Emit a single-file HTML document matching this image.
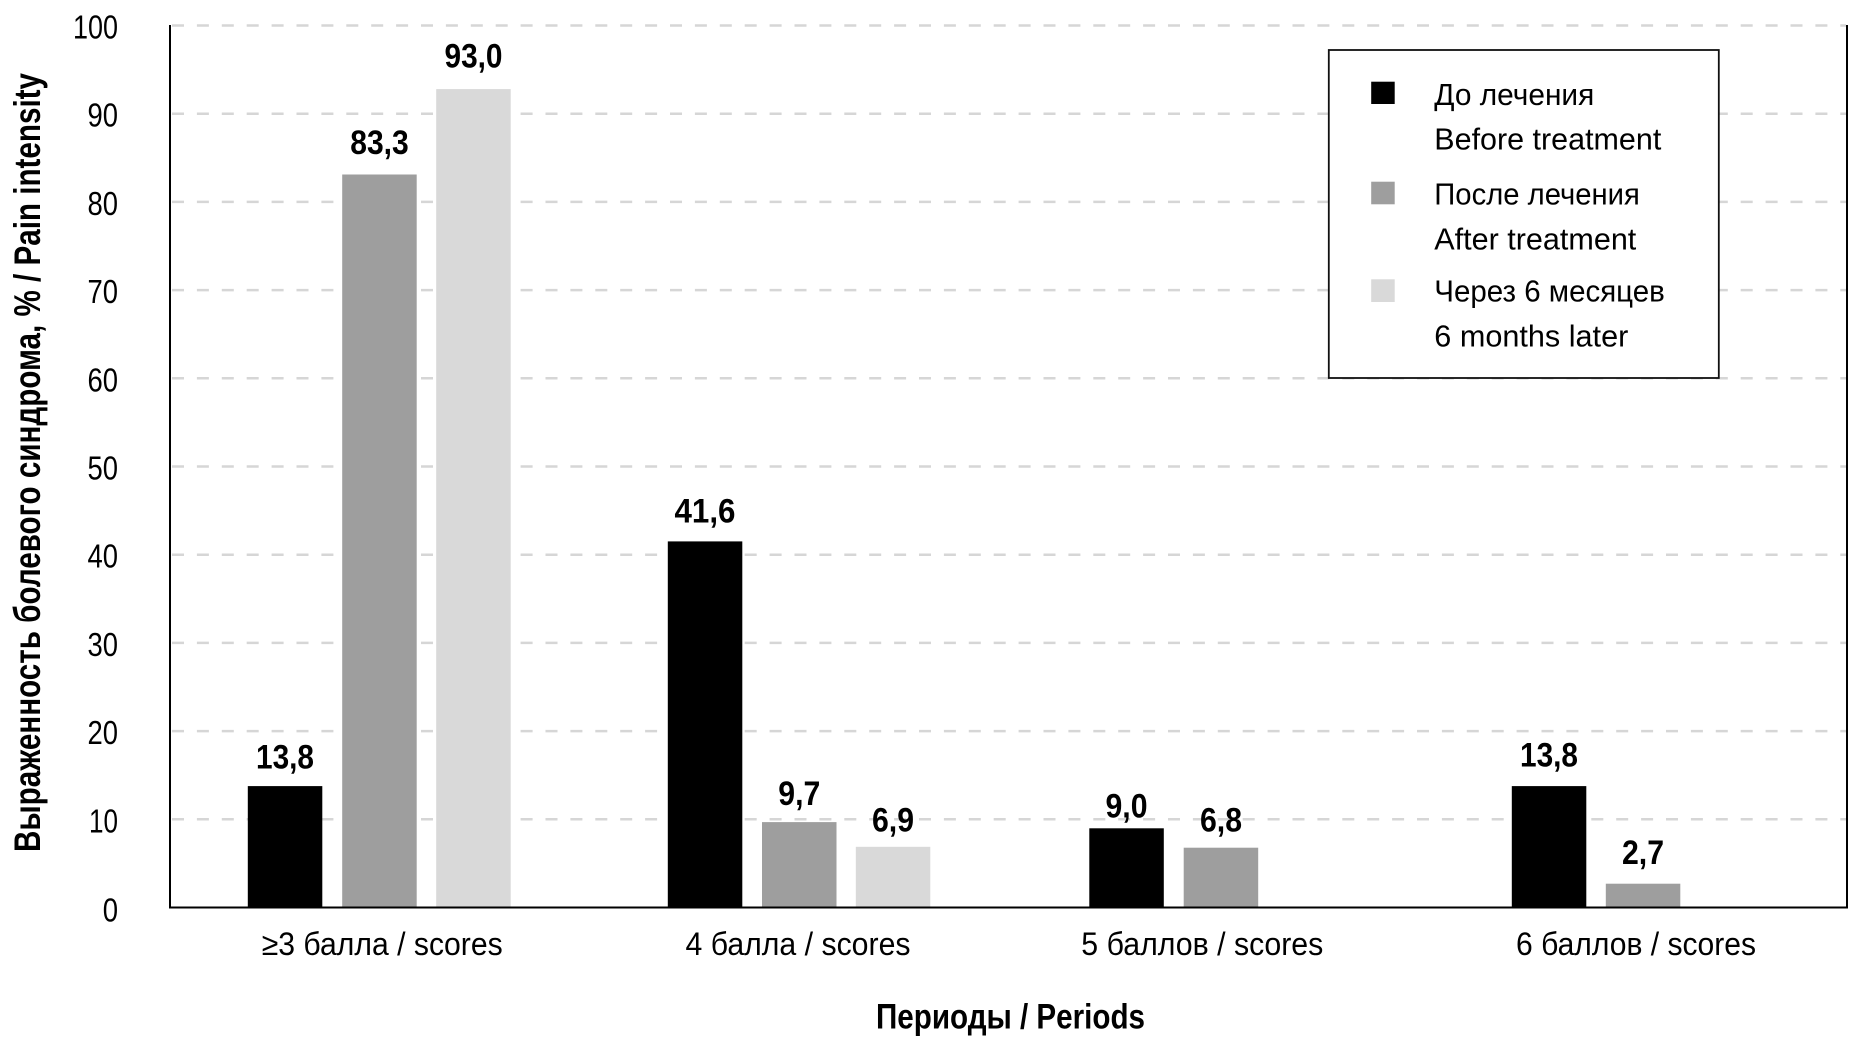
<!DOCTYPE html>
<html>
<head>
<meta charset="utf-8">
<style>
  html,body{margin:0;padding:0;background:#fff;}
  svg{display:block;}
  text{font-family:"Liberation Sans","DejaVu Sans",sans-serif;fill:#000;}
  .tick{font-size:33px;}
  .cat{font-size:32px;}
  .leg{font-size:31px;}
  .val{font-size:34px;font-weight:bold;}
  .ttl{font-size:35px;font-weight:bold;}
</style>
</head>
<body>
<svg width="1850" height="1046" viewBox="0 0 1850 1046" xmlns="http://www.w3.org/2000/svg">
  <rect x="0" y="0" width="1850" height="1046" fill="#fff"/>

  <!-- gridlines -->
  <g stroke="#d6d6d6" stroke-width="2.5" stroke-dasharray="12 12.9" fill="none">
    <line x1="172" y1="25.5" x2="1846" y2="25.5"/>
    <line x1="172" y1="113.7" x2="1846" y2="113.7"/>
    <line x1="172" y1="201.9" x2="1846" y2="201.9"/>
    <line x1="172" y1="290.1" x2="1846" y2="290.1"/>
    <line x1="172" y1="378.3" x2="1846" y2="378.3"/>
    <line x1="172" y1="466.5" x2="1846" y2="466.5"/>
    <line x1="172" y1="554.7" x2="1846" y2="554.7"/>
    <line x1="172" y1="642.9" x2="1846" y2="642.9"/>
    <line x1="172" y1="731.1" x2="1846" y2="731.1"/>
    <line x1="172" y1="819.3" x2="1846" y2="819.3"/>
  </g>

  <!-- bars: y = 907.5 - 8.8*v -->
  <!-- group 1 -->
  <rect x="247.8" y="786.1" width="74.5" height="121.4" fill="#000"/>
  <rect x="342.2" y="174.5" width="74.5" height="733" fill="#9e9e9e"/>
  <rect x="436.2" y="89.1" width="74.5" height="818.4" fill="#d9d9d9"/>
  <!-- group 2 -->
  <rect x="667.8" y="541.4" width="74.5" height="366.1" fill="#000"/>
  <rect x="762.0" y="822.1" width="74.5" height="85.4" fill="#9e9e9e"/>
  <rect x="855.8" y="846.8" width="74.5" height="60.7" fill="#d9d9d9"/>
  <!-- group 3 -->
  <rect x="1089.3" y="828.3" width="74.5" height="79.2" fill="#000"/>
  <rect x="1183.7" y="847.7" width="74.5" height="59.8" fill="#9e9e9e"/>
  <!-- group 4 -->
  <rect x="1511.8" y="786.1" width="74.5" height="121.4" fill="#000"/>
  <rect x="1605.8" y="883.7" width="74.5" height="23.8" fill="#9e9e9e"/>

  <!-- axes -->
  <line x1="170" y1="25" x2="170" y2="908.5" stroke="#000" stroke-width="2"/>
  <line x1="1847" y1="25" x2="1847" y2="908.5" stroke="#000" stroke-width="2"/>
  <line x1="169" y1="907.5" x2="1848" y2="907.5" stroke="#000" stroke-width="2"/>

  <!-- y tick labels -->
  <g class="tick" text-anchor="end">
    <text x="118" y="38.5" textLength="45" lengthAdjust="spacingAndGlyphs">100</text>
    <text x="118" y="126.7" textLength="30.5" lengthAdjust="spacingAndGlyphs">90</text>
    <text x="118" y="214.9" textLength="30.5" lengthAdjust="spacingAndGlyphs">80</text>
    <text x="118" y="303.1" textLength="30.5" lengthAdjust="spacingAndGlyphs">70</text>
    <text x="118" y="391.3" textLength="30.5" lengthAdjust="spacingAndGlyphs">60</text>
    <text x="118" y="479.5" textLength="30.5" lengthAdjust="spacingAndGlyphs">50</text>
    <text x="118" y="567.7" textLength="30.5" lengthAdjust="spacingAndGlyphs">40</text>
    <text x="118" y="655.9" textLength="30.5" lengthAdjust="spacingAndGlyphs">30</text>
    <text x="118" y="744.1" textLength="30.5" lengthAdjust="spacingAndGlyphs">20</text>
    <text x="118" y="832.3" textLength="29" lengthAdjust="spacingAndGlyphs">10</text>
    <text x="118" y="921.5" textLength="15.3" lengthAdjust="spacingAndGlyphs">0</text>
  </g>

  <!-- value labels -->
  <g class="val" text-anchor="middle">
    <text x="285" y="768.3" textLength="58" lengthAdjust="spacingAndGlyphs">13,8</text>
    <text x="379.5" y="154" textLength="58.5" lengthAdjust="spacingAndGlyphs">83,3</text>
    <text x="473.5" y="67.5" textLength="58" lengthAdjust="spacingAndGlyphs">93,0</text>
    <text x="705" y="522.7" textLength="61" lengthAdjust="spacingAndGlyphs">41,6</text>
    <text x="799.3" y="805" textLength="42" lengthAdjust="spacingAndGlyphs">9,7</text>
    <text x="893" y="831.7" textLength="42" lengthAdjust="spacingAndGlyphs">6,9</text>
    <text x="1126.5" y="817.3" textLength="42" lengthAdjust="spacingAndGlyphs">9,0</text>
    <text x="1221" y="831.7" textLength="42" lengthAdjust="spacingAndGlyphs">6,8</text>
    <text x="1549" y="766.7" textLength="58" lengthAdjust="spacingAndGlyphs">13,8</text>
    <text x="1643" y="864" textLength="42" lengthAdjust="spacingAndGlyphs">2,7</text>
  </g>

  <!-- category labels -->
  <g class="cat">
    <text x="261.7" y="955" textLength="241" lengthAdjust="spacingAndGlyphs">≥3 балла / scores</text>
    <text x="685.5" y="955" textLength="225" lengthAdjust="spacingAndGlyphs">4 балла / scores</text>
    <text x="1081.3" y="955" textLength="242" lengthAdjust="spacingAndGlyphs">5 баллов / scores</text>
    <text x="1516" y="955" textLength="240" lengthAdjust="spacingAndGlyphs">6 баллов / scores</text>
  </g>

  <!-- x title -->
  <text class="ttl" x="876" y="1028.3" textLength="269" lengthAdjust="spacingAndGlyphs">Периоды / Periods</text>

  <!-- y title -->
  <text class="ttl" transform="translate(40,462.5) rotate(-90)" x="0" y="0" text-anchor="middle" style="font-size:37px" textLength="779" lengthAdjust="spacingAndGlyphs">Выраженность болевого синдрома, % / Pain intensity</text>

  <!-- legend -->
  <rect x="1328.8" y="50" width="390" height="328" fill="#fff" stroke="#111" stroke-width="1.8"/>
  <rect x="1371.2" y="81.7" width="23.5" height="22.3" fill="#000"/>
  <rect x="1371.2" y="181.7" width="23.5" height="22.6" fill="#9e9e9e"/>
  <rect x="1371.2" y="279.3" width="23.5" height="22.7" fill="#d9d9d9"/>
  <g class="leg">
    <text x="1434.3" y="105" textLength="160" lengthAdjust="spacingAndGlyphs">До лечения</text>
    <text x="1434.3" y="149.5" textLength="227" lengthAdjust="spacingAndGlyphs">Before treatment</text>
    <text x="1434.3" y="204.5" textLength="205.5" lengthAdjust="spacingAndGlyphs">После лечения</text>
    <text x="1434.3" y="249.5" textLength="202" lengthAdjust="spacingAndGlyphs">After treatment</text>
    <text x="1434.3" y="301.5" textLength="230.5" lengthAdjust="spacingAndGlyphs">Через 6 месяцев</text>
    <text x="1434.3" y="346.7" textLength="194" lengthAdjust="spacingAndGlyphs">6 months later</text>
  </g>
</svg>
</body>
</html>
